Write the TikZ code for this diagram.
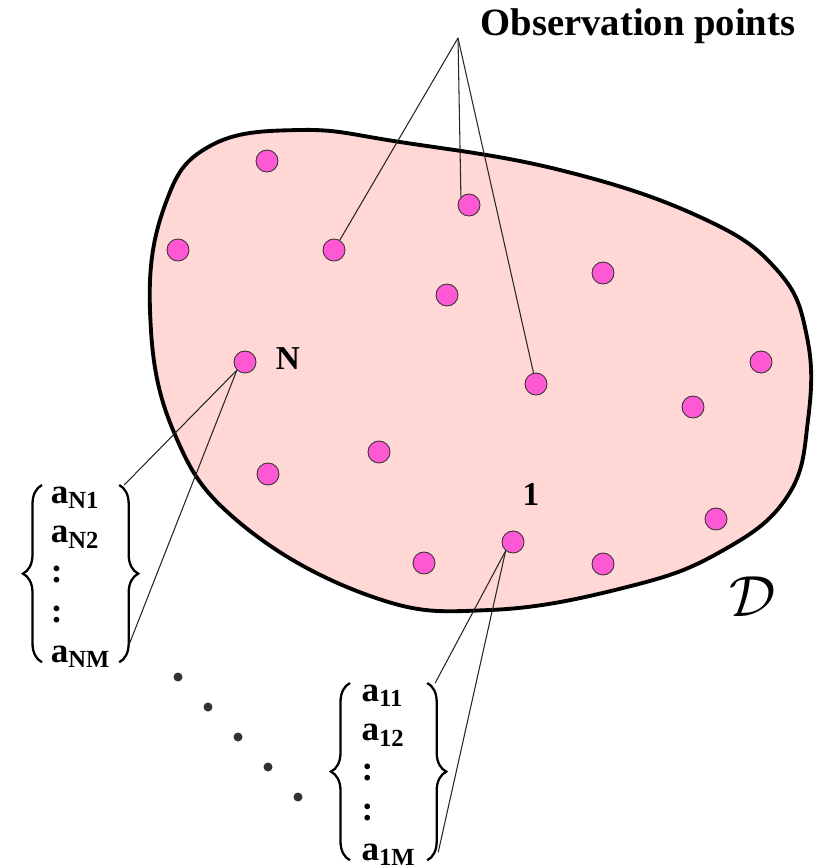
\documentclass[tikz,border=0pt]{standalone}
\usepackage{fontspec}
\setmainfont{Liberation Serif}
\usetikzlibrary{calc, decorations.pathreplacing}
\definecolor{domainPink}{RGB}{255,216,214}
\definecolor{pointMagenta}{RGB}{255,88,212}
\definecolor{dotGray}{RGB}{50,50,50}
\tikzset{
    obspoint/.style={
        circle,
        draw=black!80,
        line width=0.5pt,
        fill=pointMagenta,
        minimum size=0.44cm,
        inner sep=0pt
    },
    domainline/.style={draw=black, line width=2.2pt, fill=domainPink},
    leader/.style={draw=black!85, line width=0.6pt},
    tag/.style={font=\fontsize{19}{22}\selectfont\bfseries, inner sep=0pt},
    coeflist/.style={
        inner sep=0pt,
        anchor=north west,
        minimum width=15.3mm,
        font=\fontsize{20}{22.6}\selectfont\bfseries
    },
    listbrace/.style={decorate, decoration={brace, amplitude=3.8mm}, line width=1.3pt}
}

\begin{document}
\begin{tikzpicture}[x=0.2mm,y=-0.2mm]
        \useasboundingbox (0,0) rectangle (814,867);
        % domain D
        \draw[domainline] plot[smooth cycle, tension=0.7] coordinates {
            (300,130) (400,142) (560,170) (700,217) (777,270) (807,337)
            (808,420) (787,497) (720,552) (627,587) (490,610) (373,597) (240,523)
            (173,430) (150,310) (165,205) (210,146)};
        \node[scale=3.3] (domlabel) at (753,597) {$\mathcal{D}$};

        % observation points
        \foreach \px/\py in {267/161, 178/250, 447/295, 603/273, 761/362, 693/407,
                             379/452, 268/474, 716/519, 424/563, 603/564}
            \node[obspoint] at (\px,\py) {};
        \node[obspoint] (obsA) at (334,250) {};
        \node[obspoint] (obsB) at (469,205) {};
        \node[obspoint] (obsC) at (536,384) {};
        \node[obspoint] (ptN) at (245,362) {};
        \node[obspoint] (ptOne) at (513,542) {};
        \node[tag] (tagN) at (288,359) {N};
        \node[tag] (tagOne) at (531,494) {1};

        \node[font=\fontsize{22}{26}\selectfont\bfseries, inner sep=0pt, anchor=base] (title) at (638,36) {Observation points};
        \coordinate (apex) at (458,38);
        \draw[leader] (apex) -- (obsA);
        \draw[leader] (apex) -- (obsB.135);
        \draw[leader] (apex) -- (obsC);

        % coefficient lists
        \node[coeflist] (listN) at (42,475) {\begin{tabular}{@{}l@{}}
            a\textsubscript{N1}\\ a\textsubscript{N2}\\ :\\ :\\ a\textsubscript{NM}
            \end{tabular}};
        \node[coeflist] (listOne) at (350,673) {\begin{tabular}{@{}l@{}}
            a\textsubscript{11}\\ a\textsubscript{12}\\ :\\ :\\ a\textsubscript{1M}
            \end{tabular}};
        \coordinate (nTopL) at ($(listN.north west)+(0,10)$);
        \coordinate (nBotL) at ($(listN.south west)+(0,-12)$);
        \coordinate (nTopR) at ($(listN.north east)+(0,10)$);
        \coordinate (nBotR) at ($(listN.south east)+(0,-12)$);
        \coordinate (oneTopL) at ($(listOne.north west)+(0,10)$);
        \coordinate (oneBotL) at ($(listOne.south west)+(0,-12)$);
        \coordinate (oneTopR) at ($(listOne.north east)+(0,10)$);
        \coordinate (oneBotR) at ($(listOne.south east)+(0,-12)$);
        \draw[listbrace] (nBotL) -- (nTopL);
        \draw[listbrace] (nTopR) -- (nBotR);
        \draw[listbrace] (oneBotL) -- (oneTopL);
        \draw[listbrace] (oneTopR) -- (oneBotR);

        \draw[leader] (ptN.225) -- ($(nTopR)+(5,0)$);
        \draw[leader] (ptN.225) -- ($(nBotR)+(10,-18)$);
        \draw[leader] (ptOne.230) -- ($(oneTopR)+(8,0)$);
        \draw[leader] (ptOne.230) -- ($(oneBotR)+(11,-8)$);

        % dots between the lists
        \foreach \i in {0,...,4}
            \fill[dotGray] (178+30*\i,677+30*\i) circle (4.5);
    \end{tikzpicture}
\end{document}
